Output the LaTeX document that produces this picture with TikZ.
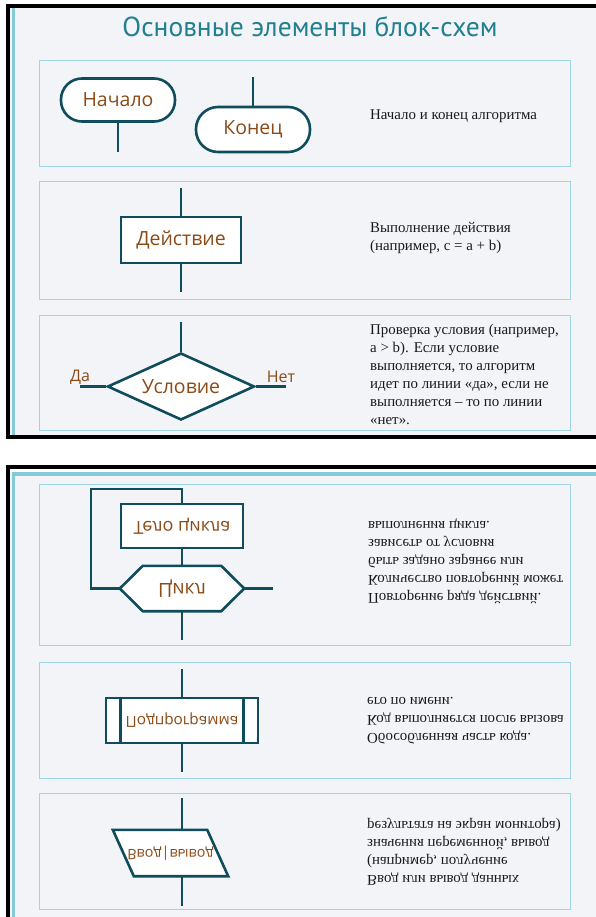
\documentclass[tikz,border=0pt]{standalone}
\usepackage{fontspec}
\usepackage{graphicx}
\usetikzlibrary{shapes.geometric,calc}
\setmainfont{Liberation Serif}
\newfontfamily\lblfont{Open Sans}
\newfontfamily\ttlfont{PT Sans}
\definecolor{strokec}{HTML}{0F4C5C}
\definecolor{lbrown}{HTML}{8A4B16}
\definecolor{titlec}{HTML}{21808F}
\definecolor{bgc}{HTML}{F2F4F8}
\definecolor{boxb}{HTML}{A0D6E2}
\definecolor{stripec}{HTML}{86CAD8}
\definecolor{descc}{HTML}{1A1A1A}
\tikzset{
  shp/.style={draw=strokec, line width=2.6pt, fill=white, inner sep=0pt,
    font=\lblfont\fontsize{19.5}{23}\selectfont, text=lbrown},
  lbl/.style={inner sep=0pt, font=\lblfont\fontsize{19.5}{23}\selectfont, text=lbrown},
  small/.style={font=\lblfont\fontsize{15.3}{19}\selectfont},
  ln/.style={draw=strokec, line width=2.6pt},
  cbox/.style={draw=boxb, line width=1pt},
  desc/.style={inner sep=0pt, anchor=west, align=left, text=descc,
    font=\fontsize{14.9}{18}\selectfont},
}
\begin{document}
\begin{tikzpicture}[x=1pt,y=-1pt]
\useasboundingbox (0,0) rectangle (596,917);
\fill[white] (0,0) rectangle (596,917);
% top panel
\fill[bgc] (10,8) rectangle (596,435);
\fill[stripec] (12,8) rectangle (15,435);
\fill[black] (6,4) rectangle (596,8);
\fill[black] (6,4) rectangle (10,439);
\fill[black] (6,435) rectangle (596,439);
% bottom panel
\fill[bgc] (10,469) rectangle (596,917);
\fill[white] (10,469) rectangle (596,472);
\fill[stripec] (12,472) rectangle (596,476);
\fill[stripec] (12,472) rectangle (15,917);
\fill[black] (6,465) rectangle (596,469);
\fill[black] (6,465) rectangle (10,917);
% content boxes
\draw[cbox] (39,61) rectangle (570,167);
\draw[cbox] (39,182) rectangle (570,299);
\draw[cbox] (39,315) rectangle (570,430);
\draw[cbox] (39,484) rectangle (570,645);
\draw[cbox] (39,662) rectangle (570,778);
\draw[cbox] (39,793) rectangle (570,909);
% title
\node[inner sep=0pt, text=titlec, font=\ttlfont\fontsize{27.5}{32}\selectfont] (title) at (310,27) {Основные элементы блок-схем};
% start / end
\node[shp, rounded corners=21pt, minimum width=114pt, minimum height=43pt] (start) at (118,100) {Начало};
\coordinate (startend) at (118,152);
\draw[ln] (start) -- (startend);
\node[shp, rounded corners=22pt, minimum width=114pt, minimum height=45pt] (stop) at (253,129.5) {Конец};
\coordinate (stoptop) at (253,77);
\draw[ln] (stoptop) -- (stop);
\node[desc] (d1) at (370,116) {Начало и конец алгоритма};
% action
\node[shp, minimum width=120pt, minimum height=46pt] (act) at (181,240) {Действие};
\coordinate (acttop) at (181,188);
\coordinate (actbot) at (181,292);
\draw[ln] (acttop) -- (act);
\draw[ln] (act) -- (actbot);
\node[desc] (d2) at (370,237.5) {Выполнение действия\\(например, c = a + b)};
% condition
\node[shp, diamond, aspect=2.2, minimum width=147pt, minimum height=67pt] (cond) at (181,386.5) {Условие};
\coordinate (condtop) at (181,322);
\coordinate (condl) at (80,386.5);
\coordinate (condr) at (286,386.5);
\draw[ln] (condtop) -- (cond.north);
\draw[ln] (cond.west) -- (condl);
\draw[ln] (cond.east) -- (condr);
\node[lbl, font=\lblfont\fontsize{16}{20}\selectfont] (yes) at (80,377) {Да};
\node[lbl, font=\lblfont\fontsize{16}{20}\selectfont] (no) at (281,377) {Нет};
\node[desc] (d3) at (370,374) {Проверка условия (например,\\a > b). Если условие\\выполняется, то алгоритм\\идет по линии «да», если не\\выполняется – то по линии\\«нет».};
% loop (mirrored)
\node[shp, font=\lblfont\fontsize{18}{22}\selectfont, minimum width=122pt, minimum height=44pt] (body) at (182,526) {\scalebox{1}[-1]{Тело цикла}};
\node[inner sep=0pt, minimum width=124pt, minimum height=45pt] (cyc) at (182,588.5) {};
\draw[ln, fill=white] (cyc.west) -- ([xshift=23pt]cyc.north west) -- ([xshift=-23pt]cyc.north east) -- (cyc.east) -- ([xshift=-23pt]cyc.south east) -- ([xshift=23pt]cyc.south west) -- cycle;
\node[lbl] (cyclbl) at (cyc.center) {\scalebox{1}[-1]{Цикл}};
\coordinate (loopc) at (91,489);
\coordinate (cycr) at (273,588.5);
\coordinate (cycb) at (182,640);
\draw[ln] (body.south) -- (cyc.north);
\draw[ln] (cyc.west) -| (loopc) -| (body.north);
\draw[ln] (cyc.east) -- (cycr);
\draw[ln] (cyc.south) -- (cycb);
\node[desc] (d4) at (368,561.5) {\scalebox{1}[-1]{\begin{tabular}{@{}l@{}}Повторение ряда действий.\\Количество повторений может\\быть задано заранее или\\зависеть от условия\\выполнения цикла.\end{tabular}}};
% subroutine (mirrored)
\node[shp, small, minimum width=152pt, minimum height=45pt] (sub) at (182,720.5) {\scalebox{1}[-1]{Подпрограмма}};
\draw[ln] ([xshift=16pt]sub.north west) -- ([xshift=16pt]sub.south west);
\draw[ln] ([xshift=-16pt]sub.north east) -- ([xshift=-16pt]sub.south east);
\coordinate (subtop) at (182,669);
\coordinate (subbot) at (182,772);
\draw[ln] (subtop) -- (sub.north);
\draw[ln] (sub.south) -- (subbot);
\node[desc] (d5) at (367,719.5) {\scalebox{1}[-1]{\begin{tabular}{@{}l@{}}Обособленная часть кода.\\Код выполняется после вызова\\его по имени.\end{tabular}}};
% input/output (mirrored)
\node[inner sep=0pt, minimum width=115pt, minimum height=46pt] (io) at (170.5,853) {};
\draw[ln, fill=white] (io.north west) -- ([xshift=-21pt]io.north east) -- (io.south east) -- ([xshift=21pt]io.south west) -- cycle;
\node[lbl, font=\lblfont\fontsize{14.3}{18}\selectfont] (iolbl) at (io.center) {\scalebox{1}[-1]{Ввод|вывод}};
\coordinate (iotop) at (182,798);
\coordinate (iobot) at (182,906);
\draw[ln] (iotop) -- (iotop |- io.north);
\draw[ln] (iobot |- io.south) -- (iobot);
\node[desc] (d6) at (367,852) {\scalebox{1}[-1]{\begin{tabular}{@{}l@{}}Ввод или вывод данных\\(например, получение\\значения переменной, вывод\\результата на экран монитора)\end{tabular}}};
\end{tikzpicture}
\end{document}
